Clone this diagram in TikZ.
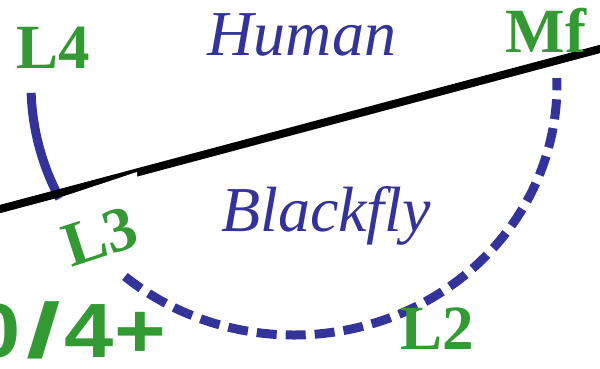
\documentclass[tikz,border=0pt]{standalone}
\usepackage{fontspec}
\setmainfont{Liberation Serif}
\newfontfamily\figsans{Liberation Sans}
\usepackage{tikz}
\definecolor{host}{HTML}{333399}
\definecolor{stage}{HTML}{339933}

\begin{document}
\begin{tikzpicture}[x=1pt, y=1pt, every node/.style={inner sep=0pt},
  hostlbl/.style={host, anchor=base, font=\fontsize{64}{64}\selectfont\itshape},
  stagelbl/.style={stage, anchor=base, font=\fontsize{63}{63}\selectfont\bfseries}]
\useasboundingbox (0,0) rectangle (600,368);
% the two hosts, either side of the skin
\node[hostlbl] (human) at (302,313) {Human};
\node[hostlbl] (fly) at (326,137) {Blackfly};
% cycle: solid part in the human, dashed part in the fly
\coordinate (ctr) at (294,283);
\draw[host, line width=9pt] (ctr) ++(181.8:263 and 250) arc[start angle=181.8, end angle=207, x radius=263, y radius=250];
\draw[host, line width=9pt, dash pattern=on 20pt off 9pt] (ctr) ++(230:263 and 250) arc[start angle=230, end angle=361.6, x radius=263, y radius=250];
% skin line, thinned where the fly bites
\draw[black, line width=8pt] (-10,156.3) -- (610,321.7);
\fill[white] (60,170.5) -- (137,196) -- (137,185) -- cycle;
% stages
\node[stagelbl] (l4) at (53,300) {L4};
\node[stagelbl] (mf) at (546,316) {Mf};
\node[stagelbl] (l2) at (437,19) {L2};
\node[stagelbl, anchor=center, rotate=18] (l3) at (100,131) {L3};
\node[stage, anchor=base east, xscale=1.15, font=\fontsize{77}{77}\selectfont\figsans\bfseries] (grade) at (166,11) {0\kern5pt\scalebox{1.4}[1]{/}\kern3pt4+};
\end{tikzpicture}
\end{document}
